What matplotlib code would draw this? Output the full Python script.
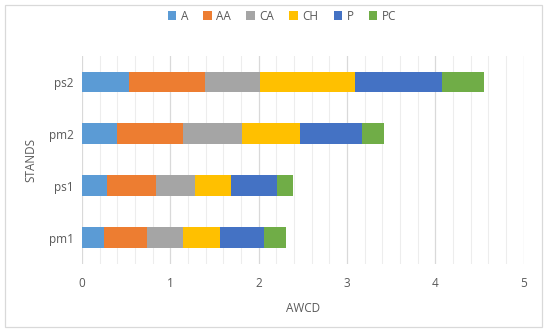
import matplotlib
matplotlib.use("Agg")
import matplotlib.pyplot as plt
from matplotlib.patches import Rectangle
from matplotlib.ticker import MultipleLocator

stands = ["pm1", "ps1", "pm2", "ps2"]
series = ["A", "AA", "CA", "CH", "P", "PC"]
A  = [0.245, 0.279, 0.396, 0.536]
AA = [0.495, 0.555, 0.751, 0.861]
CA = [0.404, 0.446, 0.665, 0.623]
CH = [0.419, 0.411, 0.660, 1.072]
P  = [0.502, 0.521, 0.699, 0.985]
PC = [0.249, 0.178, 0.250, 0.476]
colors = ["#5B9BD5", "#ED7D31", "#A5A5A5", "#FFC000", "#4472C4", "#70AD47"]

plt.rcParams['font.family'] = ['Open Sans', 'DejaVu Sans']
txt = "#595959"

fig = plt.figure(figsize=(5.5, 3.33), dpi=100)
ax = fig.add_axes([82/550, 1-263.5/333, (523.5-82)/550, (263.5-56)/333])

left = [0.0]*len(stands)
for name, vals, c in zip(series, [A, AA, CA, CH, P, PC], colors):
    ax.barh(stands, vals, left=left, height=0.4, color=c, label=name, zorder=3)
    left = [l + v for l, v in zip(left, vals)]

ax.set_xlim(0, 5)
ax.set_ylim(-0.5, 3.5)
ax.xaxis.set_major_locator(MultipleLocator(1))
ax.xaxis.set_minor_locator(MultipleLocator(0.2))
ax.grid(axis='x', which='major', color='#D9D9D9', linewidth=0.9, zorder=0)
ax.grid(axis='x', which='minor', color='#EDEDED', linewidth=0.8, zorder=0)
for s in ax.spines.values():
    s.set_visible(False)
ax.tick_params(axis='both', which='both', length=0, labelsize=8.5, labelcolor=txt)
ax.tick_params(axis='x', pad=10)
ax.tick_params(axis='y', pad=6)
ax.set_xlabel("AWCD", fontsize=8.5, color=txt, labelpad=8)
ax.set_ylabel("STANDS", fontsize=8.5, color=txt, labelpad=8)

leg = fig.legend(loc='center', bbox_to_anchor=(282/550, 1-16/333), ncol=6, frameon=False,
                 fontsize=8.5, handlelength=0.7, handleheight=0.7, handletextpad=0.4,
                 columnspacing=1.3)
for t in leg.get_texts():
    t.set_color(txt)

fig.patches.append(Rectangle((5/550, 1-327/333), (542-5)/550, (327-5)/333,
                             transform=fig.transFigure, fill=False,
                             edgecolor='#D9D9D9', linewidth=0.9))

fig.savefig("out.png", dpi=100, facecolor='white')
